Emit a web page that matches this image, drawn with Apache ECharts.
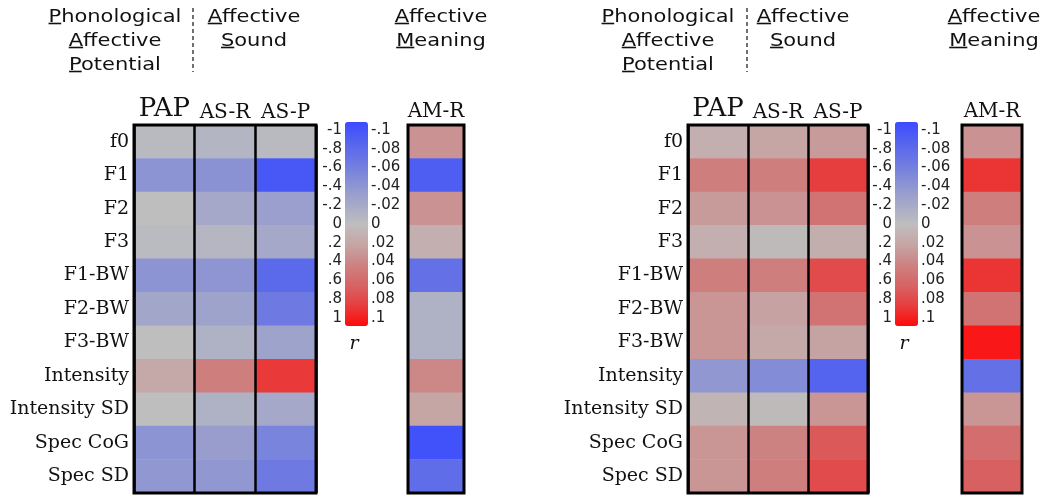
<!DOCTYPE html>
<html>
<head>
<meta charset="utf-8">
<script src="https://cdn.jsdelivr.net/npm/echarts@6/dist/echarts.min.js"></script>
<style>
html,body{margin:0;padding:0;background:#fff;}
#chart{width:1048px;height:495px;}
</style>
</head>
<body>
<div id="chart"></div>
<script>
// ---------------- DATA ----------------
const rows = ['f0','F1','F2','F3','F1-BW','F2-BW','F3-BW','Intensity','Intensity SD','Spec CoG','Spec SD'];
const cols = ['PAP','AS-R','AS-P'];
const amCols = ['AM-R'];
const rTicks = ['-1','-.8','-.6','-.4','-.2','0','.2','.4','.6','.8','1'];
const smallTicks = ['-.1','-.08','-.06','-.04','-.02','0','.02','.04','.06','.08','.1'];

// left panel (r, -1..1)
const leftPAP = [-0.04,-0.38, 0.00,-0.03,-0.38,-0.22, 0.00, 0.17, 0.00,-0.38,-0.35];
const leftASR = [-0.08,-0.40,-0.20,-0.07,-0.37,-0.25,-0.12, 0.43,-0.12,-0.30,-0.35];
const leftASP = [-0.04,-0.90,-0.28,-0.20,-0.75,-0.60,-0.25, 0.82,-0.20,-0.52,-0.60];
const leftAMR = [ 0.31,-0.85, 0.31, 0.12,-0.68,-0.12,-0.12, 0.37, 0.20,-0.95,-0.72];

// right panel
const rightPAP = [0.12, 0.43, 0.26, 0.12, 0.43, 0.29, 0.29,-0.35, 0.08, 0.29, 0.29];
const rightASR = [0.20, 0.43, 0.31, 0.03, 0.43, 0.22, 0.17,-0.45, 0.03, 0.40, 0.43];
const rightASP = [0.26, 0.80, 0.50, 0.13, 0.73, 0.50, 0.21,-0.80, 0.29, 0.66, 0.73];
const rightAMR = [0.31, 0.84, 0.43, 0.31, 0.84, 0.50, 0.95,-0.68, 0.29, 0.53, 0.62];

const headerPAP = ['Phonological','Affective','Potential'];
const headerAS = ['Affective','Sound'];
const headerAM = ['Affective','Meaning'];

// ---------------- BUILD ----------------
const chart = echarts.init(document.getElementById('chart'), null, {renderer:'canvas'});
const serif = 'DejaVu Serif';
const sans = 'DejaVu Sans';
const cmap = ['#3b4cff','#5564ee','#6e7ae1','#8a92d4','#a5a8c8','#bebebe','#c6a5a5','#cd8282','#d76464','#e63e3e','#ff0a0a'];

function cells(arrs){
  const d = [];
  arrs.forEach((arr, ci) => arr.forEach((v, ri) => d.push([ci, ri, v])));
  return d;
}

const panels = [
  {heat:{left:134,width:182}, am:{left:408,width:56}, bar:{left:345}, rx:354, data:[leftPAP,leftASR,leftASP], amData:[leftAMR],
   hdr:{pap:115, as:254, am:441, dash:193}},
  {heat:{left:688,width:180}, am:{left:962,width:60}, bar:{left:895}, rx:904, data:[rightPAP,rightASR,rightASP], amData:[rightAMR],
   hdr:{pap:668, as:803, am:994, dash:747}}
];

const grid = [], xAxis = [], yAxis = [], series = [], visualMap = [], graphic = [];
const TOP = 125, H = 368;

const mctx = document.createElement('canvas').getContext('2d');
const HF = 18, SX = 1.165;
mctx.font = HF + 'px "' + sans + '"';
function header(lines, cx){
  lines.forEach((t, i) => {
    const y = 17 + 24 * i;
    const w = mctx.measureText(t).width * SX;
    const fw = mctx.measureText(t[0]).width * SX;
    const x0 = cx - w / 2;
    graphic.push({type:'text', x:x0, y:y, scaleX:SX, style:{text:t, x:0, y:0, fill:'#111', font:HF+'px "'+sans+'"', textAlign:'left', textVerticalAlign:'middle'}});
    graphic.push({type:'line', shape:{x1:x0, y1:y+6.5, x2:x0+fw, y2:y+6.5}, style:{stroke:'#111', lineWidth:1.6}});
  });
}

panels.forEach((p, pi) => {
  // heatmap grid
  const gH = grid.length;
  grid.push({left:p.heat.left, top:TOP, width:p.heat.width, height:H, show:true, borderColor:'#000', borderWidth:3, z:10});
  xAxis.push({type:'category', data:cols, gridIndex:gH, position:'top', z:10,
    axisLine:{show:false}, axisTick:{show:false},
    splitLine:{show:true, interval:0, lineStyle:{color:'#000', width:2.5}},
    axisLabel:{interval:0, margin:3, formatter:v => v === 'PAP' ? '{b|PAP}' : '{s|' + v + '}',
      rich:{b:{fontFamily:serif, fontSize:26, color:'#111'}, s:{fontFamily:serif, fontSize:20, color:'#111', padding:[0,0,-1,0]}}}});
  yAxis.push({type:'category', data:rows, gridIndex:gH, inverse:true, axisLine:{show:false}, axisTick:{show:false},
    axisLabel:{interval:0, margin:5, fontFamily:serif, fontSize:19, color:'#111'}});
  const sH = series.length;
  series.push({type:'heatmap', xAxisIndex:xAxis.length-1, yAxisIndex:yAxis.length-1, data:cells(p.data), emphasis:{disabled:true}, itemStyle:{borderWidth:0}});

  // AM grid
  const gA = grid.length;
  grid.push({left:p.am.left, top:TOP, width:p.am.width, height:H, show:true, borderColor:'#000', borderWidth:3, z:10});
  xAxis.push({type:'category', data:amCols, gridIndex:gA, position:'top', z:10,
    axisLine:{show:false}, axisTick:{show:false}, splitLine:{show:false},
    axisLabel:{interval:0, margin:3, fontFamily:serif, fontSize:20, color:'#111'}});
  yAxis.push({type:'category', data:rows, gridIndex:gA, inverse:true, axisLine:{show:false}, axisTick:{show:false}, axisLabel:{show:false}});
  const sA = series.length;
  series.push({type:'heatmap', xAxisIndex:xAxis.length-1, yAxisIndex:yAxis.length-1, data:cells(p.amData), emphasis:{disabled:true}});

  // colorbar label grid
  const gC = grid.length;
  grid.push({left:p.bar.left, top:130, width:23, height:188, show:false});
  xAxis.push({type:'value', gridIndex:gC, show:false});
  yAxis.push({type:'category', data:rTicks, gridIndex:gC, boundaryGap:false, inverse:true, position:'left',
    axisLine:{show:false}, axisTick:{show:false}, splitLine:{show:false},
    axisLabel:{interval:0, margin:3, fontFamily:sans, fontSize:15, color:'#222'}});
  yAxis.push({type:'category', data:smallTicks, gridIndex:gC, boundaryGap:false, inverse:true, position:'right',
    axisLine:{show:false}, axisTick:{show:false}, splitLine:{show:false},
    axisLabel:{interval:0, margin:3, fontFamily:sans, fontSize:15, color:'#222'}});

  visualMap.push({type:'continuous', min:-1, max:1, inverse:true, calculable:false, seriesIndex:[sH, sA],
    orient:'vertical', left:p.bar.left, top:122, itemWidth:23, itemHeight:204, padding:0, text:null, showLabel:false,
    inRange:{color:cmap}, hoverLink:false});

  graphic.push({type:'text', x:p.rx, y:344, style:{text:'r', fill:'#111', font:'italic 19px "'+serif+'"', textAlign:'center', textVerticalAlign:'middle'}});

  header(headerPAP, p.hdr.pap);
  header(headerAS, p.hdr.as);
  header(headerAM, p.hdr.am);
  graphic.push({type:'line', shape:{x1:p.hdr.dash, y1:8, x2:p.hdr.dash, y2:72}, style:{stroke:'#111', lineWidth:1.2, lineDash:[4,3]}});
});

chart.setOption({
  animation:false,
  backgroundColor:'#fff',
  grid, xAxis, yAxis, series, visualMap, graphic
});
</script>
</body>
</html>
